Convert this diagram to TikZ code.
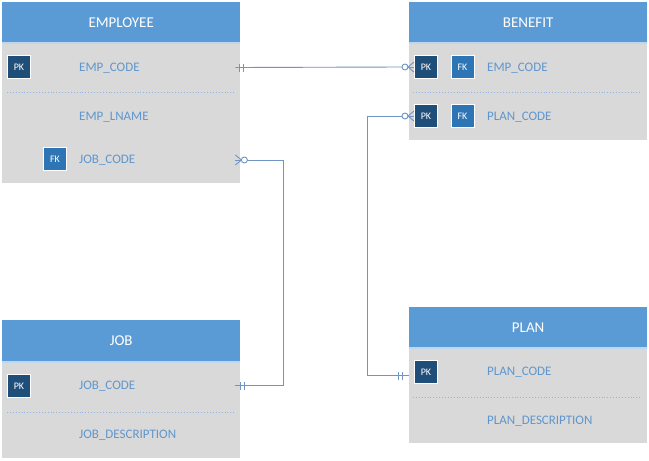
\documentclass[tikz,border=0pt]{standalone}
\usepackage{fontspec}
\setmainfont{Carlito}
\usetikzlibrary{calc}
\definecolor{hdrblue}{RGB}{91,155,213}
\definecolor{bodygray}{RGB}{217,217,217}
\definecolor{stripblue}{RGB}{189,215,238}
\definecolor{pkblue}{RGB}{31,78,121}
\definecolor{fkblue}{RGB}{46,117,182}
\definecolor{attrblue}{RGB}{95,150,205}
\definecolor{linkblue}{RGB}{112,148,196}
\definecolor{dotblue}{RGB}{142,180,227}
\tikzset{
  hdr/.style={fill=hdrblue, draw=none, text=white, anchor=north west, inner sep=0pt,
    minimum width=238pt, minimum height=40pt, font=\fontsize{15}{18}\selectfont},
  ebody/.style={fill=bodygray, draw=none, anchor=north west, inner sep=0pt, minimum width=238pt},
  attr/.style={text=attrblue, anchor=west, inner sep=0pt, font=\fontsize{13}{15}\selectfont},
  keybox/.style={draw=white, line width=1pt, text=white, minimum size=23pt, inner sep=0pt,
    font=\fontsize{10}{12}\selectfont},
  pk/.style={keybox, fill=pkblue},
  fk/.style={keybox, fill=fkblue},
  sep/.style={dotblue, dotted, line width=0.9pt},
  strip/.style={stripblue, line width=2pt},
  conn/.style={linkblue, line width=0.9pt},
  ring/.style={linkblue, line width=0.9pt, fill=white}
}
\begin{document}
\begin{tikzpicture}[x=1pt,y=-1pt]
\useasboundingbox (0,0) rectangle (649,461);
\fill[white] (0,0) rectangle (649,461);

% EMPLOYEE
\node[hdr] (emph) at (2,2) {EMPLOYEE};
\node[ebody, minimum height=141pt] (empb) at (2,42) {};
\draw[strip] (empb.north west) ++(0,1) -- ++(238,0);
\node[pk] (epk) at (19,67) {PK};
\node[attr] (e1) at (79,68) {EMP\_CODE};
\draw[sep] (7,92) -- (234,92);
\node[attr] (e2) at (79,117) {EMP\_LNAME};
\node[fk] (efk) at (55,159) {FK};
\node[attr] (e3) at (79,160) {JOB\_CODE};

% JOB
\node[hdr, minimum height=41pt] (jobh) at (2,320) {JOB};
\node[ebody, minimum height=97pt] (jobb) at (2,361) {};
\draw[strip] (jobb.north west) ++(0,1) -- ++(238,0);
\node[pk] (jpk) at (19,386) {PK};
\node[attr] (j1) at (79,386) {JOB\_CODE};
\draw[sep] (7,412) -- (234,412);
\node[attr] (j2) at (79,435) {JOB\_DESCRIPTION};

% BENEFIT
\node[hdr] (benh) at (409,2) {BENEFIT};
\node[ebody, minimum height=98pt] (benb) at (409,42) {};
\draw[strip] (benb.north west) ++(0,1) -- ++(238,0);
\node[pk] (bpk1) at (426,67) {PK};
\node[fk] (bfk1) at (462.5,67) {FK};
\node[attr] (b1) at (487,68) {EMP\_CODE};
\draw[sep] (413,92) -- (641,92);
\node[pk] (bpk2) at (426,116) {PK};
\node[fk] (bfk2) at (462.5,116) {FK};
\node[attr] (b2) at (487,117) {PLAN\_CODE};

% PLAN
\node[hdr] (planh) at (409,307) {PLAN};
\node[ebody, minimum height=96pt] (planb) at (409,347) {};
\draw[strip] (planb.north west) ++(0,1) -- ++(238,0);
\node[pk] (ppk) at (426,372) {PK};
\node[attr] (p1) at (487,372) {PLAN\_CODE};
\draw[sep] (413,397) -- (641,397);
\node[attr] (p2) at (487,421) {PLAN\_DESCRIPTION};

% Connector 1: EMPLOYEE.EMP_CODE ||----o< BENEFIT.EMP_CODE
\coordinate (c1s) at ($(empb.east |- epk.center)+(-5,0.5)$);
\coordinate (c1e) at ($(bpk1.west)+(0,0)$);
\draw[conn] (c1s) -- ($(c1e)+(-12,0)$);
\draw[conn] ($(c1s)+(4,-4)$) -- ++(0,8);
\draw[conn] ($(c1s)+(8,-4)$) -- ++(0,8);
\draw[conn] ($(c1e)+(-6,0)$) -- ($(c1e)+(0,-5)$);
\draw[conn] ($(c1e)+(-6,0)$) -- (c1e);
\draw[conn] ($(c1e)+(-6,0)$) -- ($(c1e)+(0,5)$);
\draw[ring] ($(c1e)+(-9,0)$) circle (3);

% Connector 2: EMPLOYEE.JOB_CODE >o----|| JOB.JOB_CODE
\coordinate (c2s) at ($(empb.east |- e3)+(-5,0)$);
\coordinate (c2e) at ($(jobb.east |- j1)+(-5,-0.5)$);
\coordinate (c2k) at (283,0);
\draw[conn] ($(c2s)+(12,0)$) -- (c2k |- c2s) -- (c2k |- c2e) -- (c2e);
\draw[conn] (c2s) ++(0,-5) -- ($(c2s)+(6,0)$);
\draw[conn] (c2s) -- ($(c2s)+(6,0)$);
\draw[conn] (c2s) ++(0,5) -- ($(c2s)+(6,0)$);
\draw[ring] ($(c2s)+(9,0)$) circle (3);
\draw[conn] ($(c2e)+(5,-4)$) -- ++(0,8);
\draw[conn] ($(c2e)+(9,-4)$) -- ++(0,8);

% Connector 3: BENEFIT.PLAN_CODE >o----|| PLAN.PLAN_CODE
\coordinate (c3s) at (bpk2.west);
\coordinate (c3e) at ($(planb.west |- ppk)+(0,3.5)$);
\coordinate (c3k) at (367,0);
\draw[conn] ($(c3s)+(-12,0)$) -- (c3k |- c3s) -- (c3k |- c3e) -- (c3e);
\draw[conn] ($(c3s)+(-6,0)$) -- ($(c3s)+(0,-5)$);
\draw[conn] ($(c3s)+(-6,0)$) -- (c3s);
\draw[conn] ($(c3s)+(-6,0)$) -- ($(c3s)+(0,5)$);
\draw[ring] ($(c3s)+(-9,0)$) circle (3);
\draw[conn] ($(c3e)+(-11,-4)$) -- ++(0,8);
\draw[conn] ($(c3e)+(-7,-4)$) -- ++(0,8);
\end{tikzpicture}
\end{document}
